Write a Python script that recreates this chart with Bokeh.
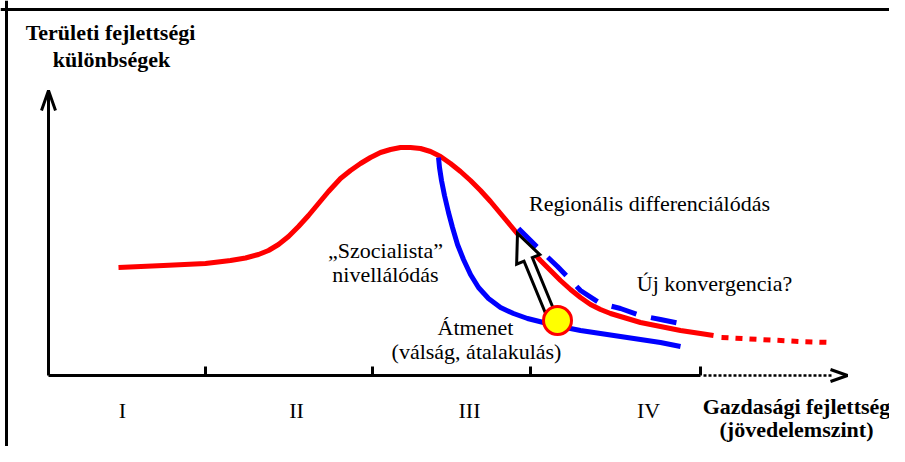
from bokeh.plotting import figure
from bokeh.models import Range1d, Span, ColumnDataSource
from bokeh.core.properties import value
from bokeh.embed import file_html
from bokeh.resources import INLINE
import numpy as np

# ---- data (conceptual diagram) ----
# main development curve (red, solid part)
red_x = [70, 115, 157, 182, 197, 210, 220, 230, 240, 250, 260, 270, 280, 292, 302, 312, 322,
         332, 342, 352, 362, 372, 382, 392, 402, 412, 422, 432, 442, 452, 462, 472, 482, 492,
         502, 512, 522, 532, 542, 552, 562, 572, 592, 612, 632, 652, 665]
red_y = [108, 110, 112, 115, 117.5, 121, 125, 131, 139, 149, 160, 172, 184, 197, 205, 212, 218,
         223, 226, 228, 228, 227, 224, 219, 212, 204, 195, 185, 174, 162, 150, 138, 126, 115,
         105, 95, 86, 78, 71, 66, 62, 59, 53, 49, 45, 42, 40]
# red, dotted continuation (future)
red_future_x = [673, 712, 752, 782]
red_future_y = [38, 36, 34, 33]
# "socialist levelling" (blue)
blue_x = [390, 391, 393, 396, 400, 404, 409, 415, 422, 430, 440, 452, 465, 479, 495, 512, 532,
          552, 572, 592, 612, 632]
blue_y = [218, 208, 195, 180, 163, 148, 131, 116, 101, 88, 77, 68, 62, 57, 53, 49, 45,
          42, 39, 36, 33, 29]
# regional differentiation (blue dashed)
blue_dash_x = [470, 489, 509, 532, 552, 572, 592, 612, 632]
blue_dash_y = [147, 128, 109, 85, 72, 67, 60, 56, 52]
# transition point and arrow
transition_x = [509]
transition_y = [55]
arrow_from = (502, 62)
arrow_to = (469, 142)
# stage boundaries on the x axis
stage_ticks = [157, 324, 482, 652]
stage_labels = ["I", "II", "III", "IV"]
stage_label_x = [74, 248, 421, 600]

axis_end = 652
axis_future_end = 785
y_axis_top = 285

FONT = "Liberation Serif"

p = figure(width=889, height=446,
           x_range=Range1d(-48, 841), y_range=Range1d(-71, 375),
           output_backend="svg", toolbar_location=None,
           x_axis_location=None, y_axis_location=None, min_border=0)
p.grid.visible = False
p.outline_line_color = None
p.background_fill_color = "white"
p.border_fill_color = "white"

# frame (left and top edges)
p.add_layout(Span(location=-42, dimension="height", line_color="black", line_width=3))
p.add_layout(Span(location=366, dimension="width", line_color="black", line_width=3))

# axes
p.line([0, 0], [0, y_axis_top], line_color="black", line_width=3)
p.line([-7, 0, 7], [y_axis_top - 20, y_axis_top, y_axis_top - 20], line_color="black", line_width=3)
p.line([0, axis_end], [0, 0], line_color="black", line_width=3)
p.segment(x0=stage_ticks, y0=[0] * 4, x1=stage_ticks, y1=[9] * 4, line_color="black", line_width=3)
p.line([axis_end + 3, axis_future_end], [0, 0], line_color="black", line_width=2.5, line_dash="3 2")
p.line([axis_future_end - 3, axis_future_end + 14, axis_future_end - 3], [6, 0, -6],
       line_color="black", line_width=3)

# curves
p.line(red_x, red_y, line_color="#FF0000", line_width=5, line_join="round")
p.line(red_future_x, red_future_y, line_color="#FF0000", line_width=5, line_dash="7 7")
p.line(blue_x, blue_y, line_color="#0000FF", line_width=5, line_join="round")
p.line(blue_dash_x, blue_dash_y, line_color="#0000FF", line_width=5, line_dash="26 15")

# hollow arrow
B = np.array(arrow_from, dtype=float)
T = np.array(arrow_to, dtype=float)
u = (T - B) / np.linalg.norm(T - B)
n = np.array([u[1], -u[0]])
H, W, S = 28, 12.5, 4.5
hb = T - u * H
pts = [B + n * S, hb + n * S, hb + n * W, T, hb - n * W, hb - n * S, B - n * S]
p.patch([q[0] for q in pts], [q[1] for q in pts], fill_color="white",
        line_color="black", line_width=3, line_join="miter")

# transition point
p.circle(x=transition_x, y=transition_y, radius=14, fill_color="#FFFF00",
         line_color="#FF0000", line_width=3)

# texts
reg = ColumnDataSource(dict(
    x=[601, 337, 337, 666, 427, 428] + stage_label_x,
    y=[172, 125, 101, 92, 48, 24] + [-35] * 4,
    t=["Regionális differenciálódás", "\u201eSzocialista\u201d", "nivellálódás",
       "Új konvergencia?", "Átmenet", "(válság, átalakulás)"] + stage_labels,
))
p.text(x="x", y="y", text="t", source=reg, text_font=value(FONT),
       text_font_size=value("22px"), text_align="center", text_baseline="middle",
       text_color="black")

bold = ColumnDataSource(dict(
    x=[62, 63, 748, 748],
    y=[343, 316, -31, -54],
    t=["Területi fejlettségi", "különbségek", "Gazdasági fejlettség", "(jövedelemszint)"],
))
p.text(x="x", y="y", text="t", source=bold, text_font=value(FONT),
       text_font_size=value("22px"), text_font_style="bold", text_align="center",
       text_baseline="middle", text_color="black")

open("out.html", "w").write(file_html(p, INLINE))
